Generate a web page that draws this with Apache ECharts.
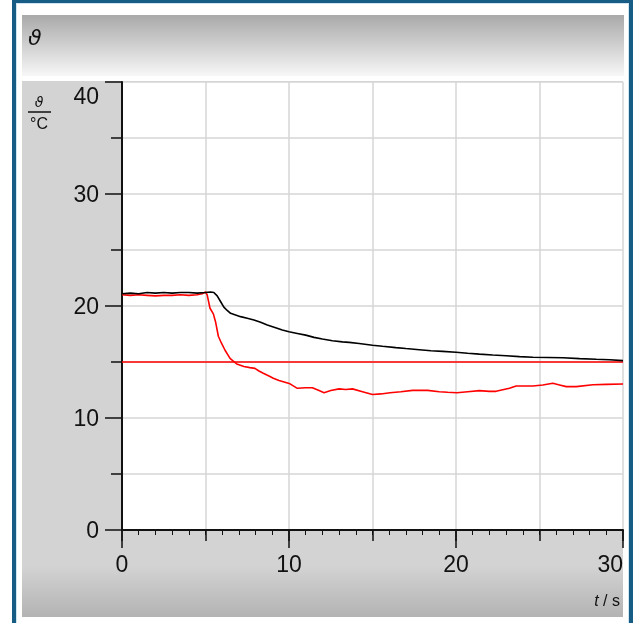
<!DOCTYPE html>
<html>
<head>
<meta charset="utf-8">
<script src="https://cdn.jsdelivr.net/npm/echarts@6/dist/echarts.min.js"></script>
<style>
html,body{margin:0;padding:0;background:#fff;}
#chart{width:633px;height:623px;}
</style>
</head>
<body>
<div id="chart"></div>
<script>
// ---- data ----
const xTicks = [0, 10, 20, 30];
const yTicks = [0, 10, 20, 30, 40];
const blackT = [0,0.5,1,1.5,2,2.5,3,3.5,4,4.5,5,5.3,5.5,5.7,5.9,6.1,6.3,6.5,6.8,7.1,7.5,7.9,8.3,8.7,9.2,9.6,10,10.5,11,11.5,12,12.6,13.2,13.6,14.2,15,15.6,16.4,17,17.8,18.5,19.2,20,20.7,21.4,22.2,23,23.8,24.6,25.5,26.4,27.4,28.4,29.2,30];
const blackV = [21.1,21.15,21.1,21.2,21.15,21.2,21.15,21.2,21.2,21.15,21.2,21.25,21.2,20.9,20.4,19.9,19.6,19.35,19.2,19.05,18.9,18.75,18.55,18.3,18.05,17.85,17.7,17.55,17.4,17.2,17.05,16.9,16.8,16.75,16.65,16.5,16.4,16.28,16.2,16.1,16.0,15.95,15.87,15.78,15.7,15.62,15.56,15.48,15.42,15.4,15.38,15.3,15.24,15.2,15.12];
const redT = [0,0.5,1,1.5,2,2.5,3,3.5,4,4.5,4.8,5.0,5.1,5.27,5.47,5.6,5.77,5.95,6.17,6.47,6.87,7.3,7.66,7.96,8.2,8.46,8.8,9.06,9.4,9.66,10.06,10.5,11.0,11.4,11.8,12.1,12.5,13.0,13.4,13.8,14.4,15.0,15.5,16.05,16.7,17.4,18.3,19.0,19.5,20.05,20.7,21.4,22.0,22.4,23.2,23.6,24.6,25.2,25.8,26.2,26.6,27.2,28.2,29.0,30];
const redV = [21.0,20.95,21.0,20.95,20.9,20.95,20.95,21.0,20.95,21.0,21.1,21.25,21.0,19.8,19.3,18.6,17.3,16.7,16.05,15.33,14.82,14.6,14.5,14.43,14.2,14.0,13.75,13.55,13.35,13.24,13.05,12.65,12.7,12.7,12.45,12.26,12.45,12.6,12.55,12.6,12.35,12.1,12.15,12.25,12.35,12.47,12.47,12.35,12.3,12.26,12.35,12.44,12.38,12.38,12.65,12.86,12.86,12.95,13.1,12.95,12.8,12.8,12.97,13.0,13.03];
const setT = [0, 30];
const setV = [15, 15];

const zip = (a, b) => a.map((v, i) => [v, b[i]]);

const chart = echarts.init(document.getElementById('chart'), null, {renderer: 'canvas'});
const FONT = 'Liberation Sans';
const grid = {left: 122, top: 82, width: 501, height: 448, show: true, backgroundColor: '#fff', borderWidth: 0};

chart.setOption({
  animation: false,
  backgroundColor: '#fff',
  grid: grid,
  graphic: [
    // blue frame
    {type: 'rect', z: -10, shape: {x: 12, y: 0, width: 621, height: 623}, style: {fill: '#175c85'}},
    {type: 'rect', z: -9, shape: {x: 16, y: 3, width: 613, height: 620}, style: {fill: '#cfe6f2'}},
    {type: 'rect', z: -8, shape: {x: 17, y: 4, width: 611, height: 619}, style: {fill: '#ffffff'}},
    // header
    {type: 'rect', z: -7, shape: {x: 22, y: 15, width: 602, height: 61},
      style: {fill: new echarts.graphic.LinearGradient(0, 0, 0, 1, [{offset: 0, color: '#a9a9a9'}, {offset: 1, color: '#f7f7f7'}])}},
    // gray panels
    {type: 'rect', z: -7, shape: {x: 22, y: 81, width: 601, height: 536},
      style: {fill: new echarts.graphic.LinearGradient(0, 0, 0, 1, [{offset: 0, color: '#d3d3d3'}, {offset: 0.905, color: '#d3d3d3'}, {offset: 1, color: '#b3b3b3'}])}},
    // title
    {type: 'text', z: 5, left: 28, top: 28, style: {text: 'ϑ', font: 'italic 22px "DejaVu Sans"', fill: '#111'}},
    // y axis name
    {type: 'text', z: 5, x: 39, y: 103, style: {text: 'ϑ', font: 'italic 14px "DejaVu Sans"', fill: '#111', align: 'center', verticalAlign: 'middle'}},
    {type: 'line', z: 5, shape: {x1: 28, y1: 112, x2: 51, y2: 112}, style: {stroke: '#111', lineWidth: 1.5}},
    {type: 'text', z: 5, x: 39, y: 125, style: {text: '°C', font: '16px "Liberation Sans"', fill: '#111', align: 'center', verticalAlign: 'middle'}},
    // x axis name
    {type: 'text', z: 5, x: 620, y: 602, style: {text: '{i|t} / s', font: '16px "Liberation Sans"', fill: '#111', align: 'right', verticalAlign: 'middle',
      rich: {i: {fontStyle: 'italic', fontFamily: 'Liberation Sans', fontSize: 16, fill: '#111'}}}}
  ],
  xAxis: [
    {type: 'value', min: 0, max: 30, interval: 10, position: 'bottom',
      axisLine: {show: true, lineStyle: {color: '#111', width: 2}},
      axisTick: {show: true, length: 18, lineStyle: {color: '#111', width: 1.5}},
      minorTick: {show: true, splitNumber: 10, length: 5, lineStyle: {color: '#111', width: 1}},
      axisLabel: {show: true, margin: 24, fontFamily: FONT, fontSize: 23, color: '#111', alignMaxLabel: 'right',
        customValues: xTicks},
      splitLine: {show: false}},
    {type: 'value', min: 0, max: 30, interval: 5, position: 'bottom',
      axisLine: {show: false},
      axisTick: {show: true, length: 11, lineStyle: {color: '#111', width: 1.5}},
      axisLabel: {show: false},
      splitLine: {show: true, lineStyle: {color: '#d6d6d6', width: 1.5}}}
  ],
  yAxis: [
    {type: 'value', min: 0, max: 40, interval: 10, position: 'left',
      axisLine: {show: true, lineStyle: {color: '#111', width: 2}},
      axisTick: {show: true, length: 17, lineStyle: {color: '#111', width: 1.5}},
      axisLabel: {show: true, margin: 23, fontFamily: FONT, fontSize: 23, color: '#111', verticalAlignMaxLabel: 'top',
        customValues: yTicks,
        formatter: v => v === 40 ? '{t|40}' : '{n|' + v + '}',
        rich: {t: {fontFamily: FONT, fontSize: 23, color: '#111', padding: [4, 0, 0, 0]},
               n: {fontFamily: FONT, fontSize: 23, color: '#111', padding: [3, 0, 0, 0]}}},
      splitLine: {show: false}},
    {type: 'value', min: 0, max: 40, interval: 5, position: 'left',
      axisLine: {show: false},
      axisTick: {show: true, length: 11, lineStyle: {color: '#111', width: 1.5}},
      axisLabel: {show: false},
      splitLine: {show: true, lineStyle: {color: '#d6d6d6', width: 1.5}}}
  ],
  series: [
    {type: 'line', name: 'set', xAxisIndex: 0, yAxisIndex: 0, data: zip(setT, setV), showSymbol: false, lineStyle: {color: '#ff0000', width: 1.6}, z: 3},
    {type: 'line', name: 'red', xAxisIndex: 0, yAxisIndex: 0, data: zip(redT, redV), showSymbol: false, lineStyle: {color: '#ff0000', width: 1.6}, z: 4},
    {type: 'line', name: 'black', xAxisIndex: 0, yAxisIndex: 0, data: zip(blackT, blackV), showSymbol: false, lineStyle: {color: '#000000', width: 1.6}, z: 5}
  ]
});
</script>
</body>
</html>
